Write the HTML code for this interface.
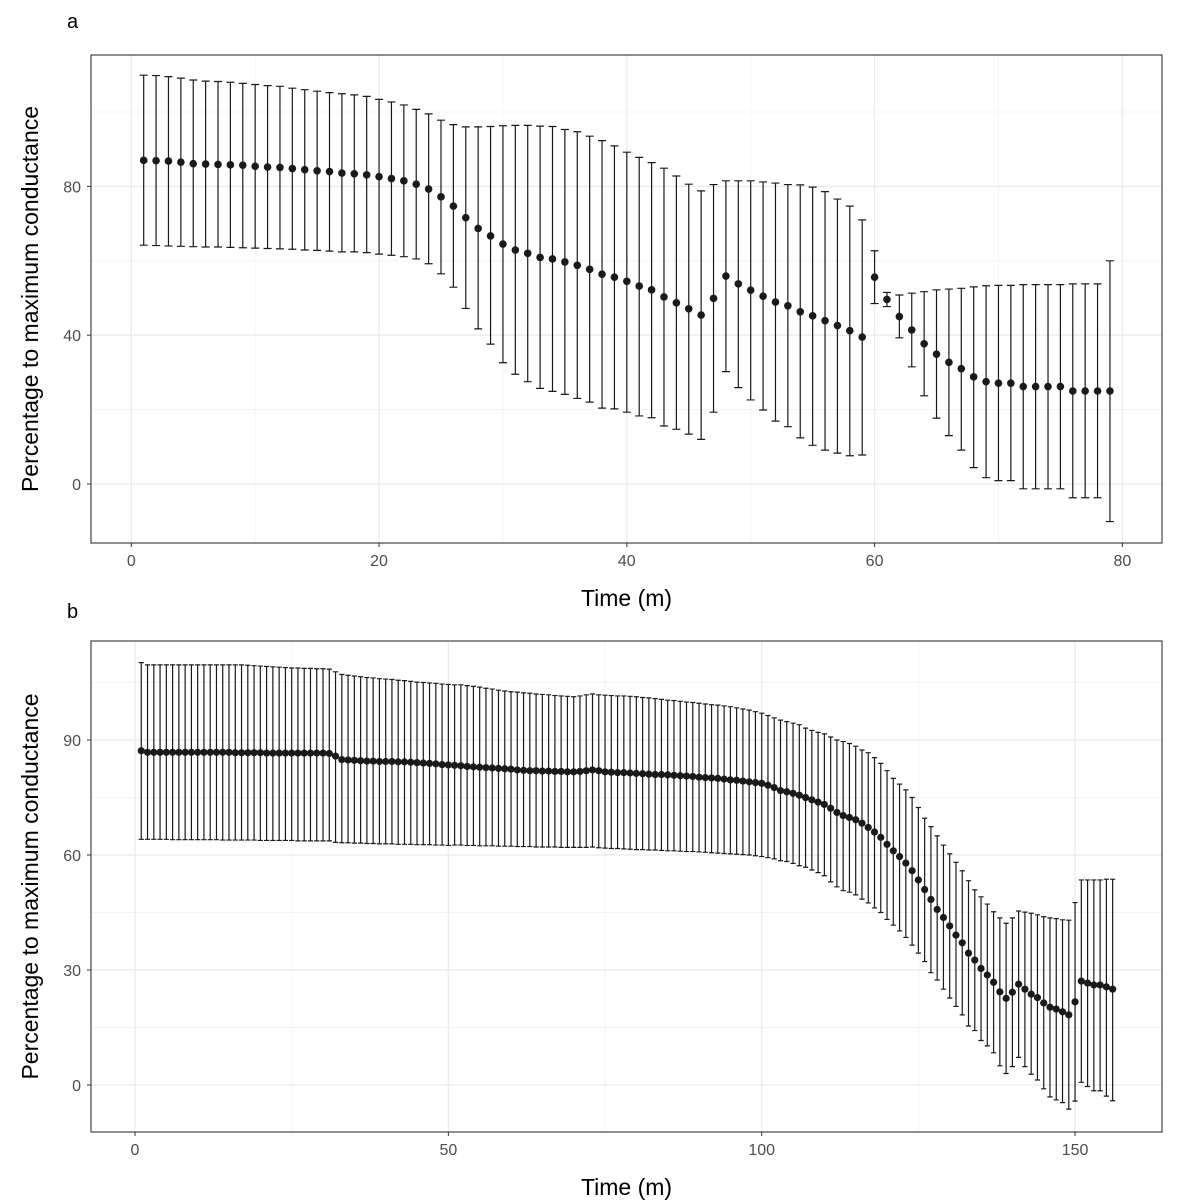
<!DOCTYPE html>
<html><head><meta charset="utf-8"><style>
html,body{margin:0;padding:0;background:#fff;}
svg{display:block;font-family:"Liberation Sans",Arial,sans-serif;}
</style></head><body>
<svg id="chart" width="1177" height="1200" viewBox="0 0 1177 1200" xmlns="http://www.w3.org/2000/svg">
<rect width="1177" height="1200" fill="#fff"/>
</svg>
<script>
// ---- Panel a data (time 1..79) ----
const meanA = [87.0,86.9,86.8,86.5,86.1,86.0,85.9,85.8,85.7,85.4,85.2,85.1,84.8,84.5,84.2,84.0,83.6,83.4,83.1,
82.6,82.1,81.5,80.6,79.3,77.2,74.7,71.6,68.7,66.7,64.5,62.9,62.0,60.9,60.5,59.7,58.8,57.7,56.4,55.6,
54.5,53.2,52.2,50.3,48.7,47.1,45.4,49.9,55.9,53.8,52.1,50.5,48.9,47.9,46.3,45.2,43.9,42.6,41.2,39.5,55.6,49.6,45.0,
41.4,37.7,34.9,32.7,31.0,28.8,27.5,27.1,27.1,26.2,26.2,26.2,26.2,25.0,25.0,25.0,25.0];
const hiA = [109.9,109.8,109.5,109.1,108.6,108.3,108.2,108.0,107.7,107.4,107.1,106.9,106.4,106.0,105.6,105.2,104.9,104.6,104.2,
103.4,102.7,101.9,100.7,99.5,97.8,96.6,96.0,96.0,96.1,96.3,96.4,96.4,96.2,96.1,95.3,94.7,93.5,92.3,90.9,
89.2,87.8,86.4,84.9,82.8,80.6,78.8,80.5,81.5,81.5,81.5,81.2,80.9,80.5,80.4,79.8,78.6,76.6,74.7,71.0,62.7,51.5,50.8,
51.3,51.7,52.2,52.4,52.6,53.0,53.3,53.4,53.4,53.6,53.6,53.6,53.6,53.8,53.8,53.8,60.0];
const loA = [64.2,64.1,64.0,63.9,63.8,63.7,63.7,63.6,63.5,63.4,63.3,63.2,63.1,62.9,62.8,62.6,62.4,62.4,62.2,
61.8,61.5,61.1,60.5,59.2,56.5,52.9,47.2,41.7,37.6,32.6,29.5,27.5,25.7,24.9,24.1,23.0,22.0,20.4,20.2,
19.3,18.3,17.8,15.6,14.7,13.4,12.0,19.3,30.2,25.9,22.6,19.9,16.9,15.4,12.4,10.4,9.1,8.3,7.6,7.8,48.5,47.7,39.3,
31.5,23.7,17.7,13.0,9.1,4.4,1.7,0.9,0.9,-1.3,-1.3,-1.3,-1.3,-3.7,-3.7,-3.7,-10.1];
const xTicksA = [0,20,40,60,80];
const yTicksA = [0,40,80];

// ---- Panel b data (time 1..156) ----
const meanB = [87.2,86.8,86.8,86.8,86.8,86.8,86.8,86.8,86.8,86.8,
86.8,86.8,86.8,86.8,86.8,86.7,86.7,86.7,86.7,86.7,
86.6,86.6,86.6,86.6,86.6,86.6,86.6,86.6,86.6,86.6,
86.5,85.8,84.9,84.8,84.7,84.6,84.5,84.5,84.4,84.4,
84.4,84.3,84.3,84.2,84.1,84.0,83.9,83.8,83.6,83.5,
83.4,83.3,83.1,83.0,82.9,82.8,82.7,82.6,82.5,82.4,
82.2,82.1,82.0,82.0,81.9,81.9,81.8,81.8,81.7,81.7,
81.8,82.0,82.2,82.0,81.7,81.6,81.5,81.5,81.4,81.3,
81.2,81.1,81.0,81.0,80.9,80.8,80.7,80.6,80.5,80.3,
80.2,80.1,80.0,79.8,79.6,79.5,79.3,79.1,78.9,78.7,
78.2,77.6,
76.8,76.5,76.1,75.6,75.0,74.4,73.8,73.2,72.2,71.1,70.3,69.8,69.2,68.3,67.2,66.0,64.6,62.8,61.1,59.6,57.9,55.9,53.5,51.0,48.4,45.8,43.7,41.5,39.1,37.1,
34.4,32.6,30.4,28.7,26.8,24.3,22.6,24.2,26.3,25.0,23.7,22.8,21.4,20.3,19.8,19.1,18.3,21.7,27.1,26.6,26.1,26.1,25.6,25.0];
const hiB = [110.2,109.6,109.6,109.6,109.6,109.6,109.6,109.6,109.6,109.6,
109.6,109.6,109.6,109.6,109.6,109.6,109.6,109.5,109.4,109.3,
109.2,109.1,109.0,108.9,108.8,108.8,108.7,108.7,108.6,108.6,
108.5,107.8,107.1,106.9,106.7,106.5,106.3,106.2,106.0,105.9,
105.8,105.6,105.5,105.3,105.1,105.0,104.9,104.8,104.6,104.5,
104.4,104.4,104.2,104.0,103.8,103.5,103.3,103.0,102.8,102.6,
102.5,102.3,102.2,102.0,101.9,101.8,101.6,101.5,101.4,101.3,
101.5,101.8,102.0,101.8,101.7,101.6,101.5,101.5,101.4,101.3,
101.1,101.0,100.8,100.6,100.4,100.3,100.1,99.9,99.8,99.6,
99.4,99.2,99.1,98.9,98.7,98.4,98.1,97.8,97.4,97.0,
96.4,95.8,
95.2,94.8,94.4,94.0,93.1,92.5,92.0,91.6,90.8,90.0,89.6,89.1,88.4,87.4,86.7,85.4,83.9,82.0,80.0,78.5,77.0,75.0,72.4,69.6,67.4,65.0,62.6,60.3,58.1,55.9,
53.3,50.9,49.1,47.2,45.2,43.6,42.2,43.6,45.4,45.1,44.8,44.4,43.9,43.6,43.4,43.1,43.0,47.6,53.5,53.5,53.5,53.5,53.7,53.7];
const loB = [64.1,64.1,64.1,64.1,64.1,64.0,64.0,64.0,64.0,64.0,
64.0,64.0,64.0,63.9,63.9,63.9,63.9,63.9,63.9,63.8,
63.8,63.8,63.8,63.8,63.8,63.7,63.7,63.7,63.7,63.7,
63.7,63.3,63.2,63.2,63.1,63.1,63.0,63.0,62.9,62.9,
62.9,62.8,62.8,62.8,62.7,62.7,62.7,62.6,62.6,62.5,
62.6,62.6,62.5,62.5,62.4,62.4,62.4,62.3,62.3,62.3,
62.2,62.2,62.2,62.1,62.1,62.1,62.1,62.0,62.0,62.0,
62.0,62.0,62.1,61.9,61.8,61.7,61.7,61.6,61.5,61.4,
61.4,61.3,61.3,61.2,61.1,61.1,61.0,60.9,60.9,60.8,
60.7,60.6,60.5,60.4,60.3,60.2,60.1,60.0,59.8,59.6,
59.3,59.0,
58.5,58.3,57.8,57.2,56.8,56.1,55.4,54.6,53.0,51.7,50.7,50.3,49.6,48.5,47.5,46.2,45.0,43.2,41.7,40.2,38.5,36.5,34.4,32.2,29.3,27.4,25.0,22.7,20.5,18.3,
15.4,14.2,11.6,10.2,8.4,5.0,3.0,4.8,7.2,4.8,2.8,1.3,-1.0,-3.1,-3.9,-4.6,-6.3,-4.2,0.7,-0.4,-1.5,-1.5,-2.9,-4.1];
const xTicksB = [0,50,100,150];
const yTicksB = [0,30,60,90];

const NS = 'http://www.w3.org/2000/svg';
const svg = document.getElementById('chart');
function mk(tag, attrs, parent){
  const e = document.createElementNS(NS, tag);
  for (const k in attrs) e.setAttribute(k, attrs[k]);
  (parent||svg).appendChild(e);
  return e;
}

function panel(cfg){
  const g = mk('g', {});
  
  
  const {L,T,R,B} = cfg;
  const X = v => cfg.x0 + v * cfg.xs;
  const Y = v => cfg.y0 - v * cfg.ys;
  const bg = mk('rect', {x:L, y:T, width:R-L, height:B-T, fill:'#fff'}, g);
  
  
  for (let i=0;i<cfg.xt.length-1;i++){
    const v=(cfg.xt[i]+cfg.xt[i+1])/2;
    const ln = mk('line',{x1:X(v),x2:X(v),y1:T,y2:B,stroke:'#f2f2f2','stroke-width':0.8},g);
    
    
  }
  for (const v of cfg.yminor){
    const ln = mk('line',{x1:L,x2:R,y1:Y(v),y2:Y(v),stroke:'#f2f2f2','stroke-width':0.8},g);
    
    
  }
  for (const v of cfg.xt){
    const ln = mk('line',{x1:X(v),x2:X(v),y1:T,y2:B,stroke:'#ebebeb','stroke-width':1.3},g);
    
    
    const tk = mk('line',{x1:X(v),x2:X(v),y1:B,y2:B+4,stroke:'#333','stroke-width':1},g);
    
    
    const tx = mk('text',{x:X(v),y:B+23,'text-anchor':'middle','font-size':16,fill:'#4d4d4d'},g);
    tx.textContent = v;
    
    
  }
  for (const v of cfg.yt){
    const ln = mk('line',{x1:L,x2:R,y1:Y(v),y2:Y(v),stroke:'#ebebeb','stroke-width':1.3},g);
    
    
    const tk = mk('line',{x1:L-4,x2:L,y1:Y(v),y2:Y(v),stroke:'#333','stroke-width':1},g);
    
    
    const tx = mk('text',{x:L-10,y:Y(v)+6,'text-anchor':'end','font-size':16,fill:'#4d4d4d'},g);
    tx.textContent = v;
    
    
  }
  const n = cfg.mean.length;
  for (let i=0;i<n;i++){
    const t=i+1, cx=X(t);
    const eb = mk('path',{d:`M${cx-cfg.cap},${Y(cfg.hi[i])}H${cx+cfg.cap}M${cx},${Y(cfg.hi[i])}V${Y(cfg.lo[i])}M${cx-cfg.cap},${Y(cfg.lo[i])}H${cx+cfg.cap}`,stroke:'#1a1a1a','stroke-width':1.2,fill:'none'},g);
    
    
  }
  for (let i=0;i<n;i++){
    const pt = mk('circle',{cx:X(i+1),cy:Y(cfg.mean[i]),r:cfg.r,fill:'#1a1a1a'},g);
    
    
  }
  const fr = mk('rect',{x:L,y:T,width:R-L,height:B-T,fill:'none',stroke:'#333','stroke-width':1.1},g);
  
  
  const xt = mk('text',{x:(L+R)/2,y:B+63,'text-anchor':'middle','font-size':23,fill:'#000'},g);
  xt.textContent='Time (m)';
  
  
  const cy=(T+B)/2;
  const yt = mk('text',{x:38,y:cy,'text-anchor':'middle','font-size':23,fill:'#000',transform:`rotate(-90 38 ${cy})`},g);
  yt.textContent='Percentage to maximum conductance';
  
  
  const pl = mk('text',{x:67,y:cfg.labY,'font-size':20,fill:'#000'},g);
  pl.textContent=cfg.id;
  
  
}

panel({id:'a',L:91,T:55,R:1162,B:543,x0:131.3,xs:12.388,y0:484,ys:3.72,
  xt:xTicksA,yt:yTicksA,yminor:[20,60,100],mean:meanA,hi:hiA,lo:loA,cap:4,r:3.8,labY:28});
panel({id:'b',L:91,T:641,R:1162,B:1132,x0:135,xs:6.267,y0:1085,ys:3.833,
  xt:xTicksB,yt:yTicksB,yminor:[15,45,75,105],mean:meanB,hi:hiB,lo:loB,cap:2.6,r:3.6,labY:618});
</script>
</body></html>
